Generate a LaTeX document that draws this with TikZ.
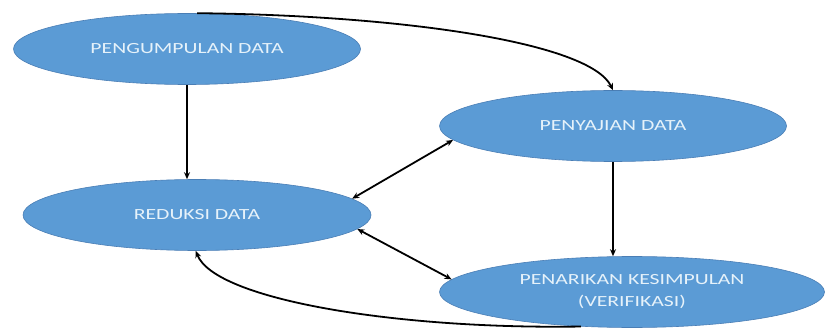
\documentclass[tikz,border=0pt]{standalone}
\usepackage{fontspec}
\usepackage{xcolor}
\usepackage{tikz}
\usetikzlibrary{shapes.geometric,arrows.meta}
\newfontfamily\stagefont{Carlito}[FakeStretch=1.4]
\definecolor{stagefill}{HTML}{5B9BD5}
\definecolor{stageline}{HTML}{4A7EB5}
\definecolor{stagetext}{HTML}{E6F2FA}

\begin{document}
\begin{tikzpicture}[x=1pt, y=-1pt,
  stage/.style={ellipse, fill=stagefill, draw=stageline, line width=0.6pt, inner sep=0pt, minimum width=#1, minimum height=71pt, text=stagetext, align=center, font=\stagefont\fontsize{15.5}{22}\selectfont},
  flow/.style={-{Stealth[length=7pt,width=6pt]}, line width=1.8pt, black},
  both/.style={{Stealth[length=7pt,width=6pt]}-{Stealth[length=7pt,width=6pt]}, line width=1.8pt, black}
]
  \useasboundingbox (0,0) rectangle (826,331);

  \node[stage=347pt] (pengumpulan) at (187,49) {PENGUMPULAN DATA};
  \node[stage=348pt] (reduksi) at (197,215) {REDUKSI DATA};
  \node[stage=347pt] (penyajian) at (613,126) {PENYAJIAN DATA};
  \node[stage=385pt] (penarikan) at (632,292) {PENARIKAN KESIMPULAN\\(VERIFIKASI)};

  \draw[flow] (pengumpulan.north) ++(10,0) .. controls +(203,2) and +(-23,-48) .. (penyajian.north);
  \draw[flow] (pengumpulan.south) -- (pengumpulan.south |- reduksi.north);
  \draw[flow] (penyajian.south) -- (penyajian.south |- penarikan.north);
  \draw[both] (reduksi.6) -- (penyajian.185);
  \draw[both] (reduksi.-5) -- (penarikan.176);
  % back to the reduction step
  \draw[flow] (penarikan.-146) .. controls +(-183,3) and +(19,49) .. (reduksi.-92);
\end{tikzpicture}
\end{document}
